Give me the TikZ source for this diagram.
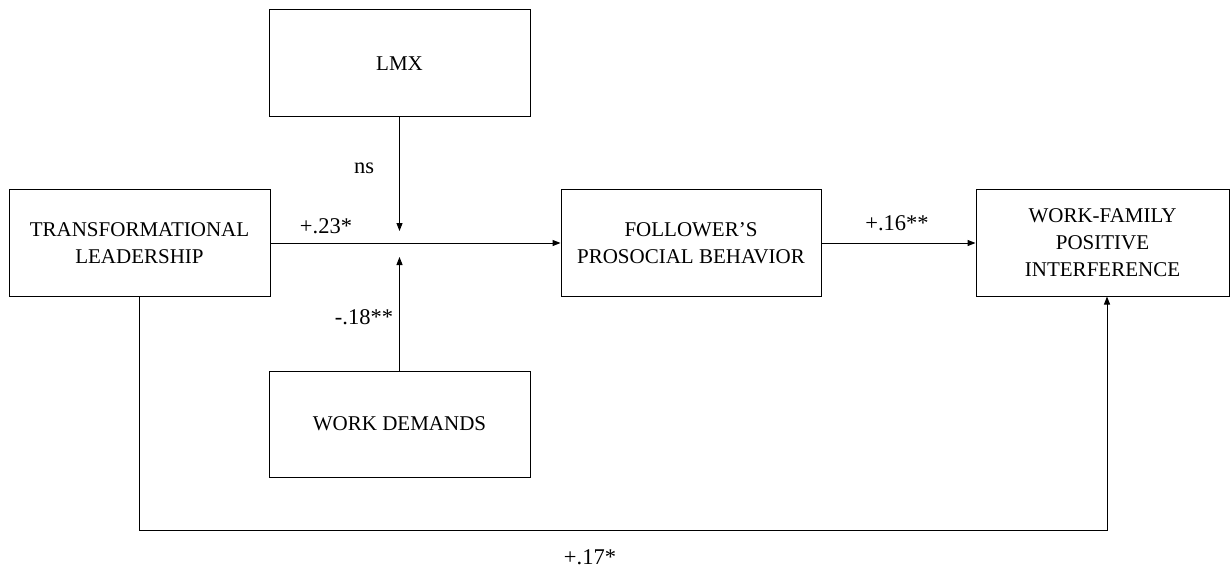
\documentclass[tikz,border=0pt]{standalone}
\usepackage{fontspec}
\setmainfont{Liberation Serif}
\usetikzlibrary{arrows.meta}

\begin{document}
\begin{tikzpicture}[x=1pt,y=-1pt,line width=1pt,
  varbox/.style={draw,align=center,minimum height=106pt,inner sep=0pt,font=\fontsize{21}{27}\selectfont},
  arr/.style={-{Triangle[length=8pt,width=6pt]}},
  coef/.style={font=\fontsize{22.5}{26}\selectfont,inner sep=0pt}]
  \useasboundingbox (0,0) rectangle (1231,572);
  % variables
  \node[varbox,minimum width=261pt] (tl) at (139.5,243) {TRANSFORMATIONAL\\LEADERSHIP};
  \node[varbox,minimum width=261pt,minimum height=107pt] (lmx) at (399.5,63.5) {LMX};
  \node[varbox,minimum width=261pt] (wd) at (399.5,424) {WORK DEMANDS};
  \node[varbox,minimum width=260pt] (fpb) at (691,243) {FOLLOWER'S\\PROSOCIAL BEHAVIOR};
  \node[varbox,minimum width=253pt] (wfpi) at (1102.5,243) {WORK-FAMILY\\POSITIVE\\INTERFERENCE};
  % paths
  \coordinate (mtop) at (399.5,231); \coordinate (mbot) at (399.5,257); \coordinate (bend) at (1107,530);
  \draw[arr] (tl.east) -- (fpb.west);
  \draw[arr] (lmx.south) -- (mtop);
  \draw[arr] (wd.north) -- (mbot);
  \draw[arr] (fpb.east) -- (wfpi.west);
  \draw[arr] (tl.south) |- (bend) -- (bend |- wfpi.south);
  % coefficients
  \node[coef] (ns) at (364,168) {ns};
  \node[coef] (c23) at (326,226) {+.23*};
  \node[coef] (c18) at (364,317) {-.18**};
  \node[coef] (c16) at (897,223) {+.16**};
  \node[coef] (c17) at (590,557) {+.17*};
\end{tikzpicture}
\end{document}
